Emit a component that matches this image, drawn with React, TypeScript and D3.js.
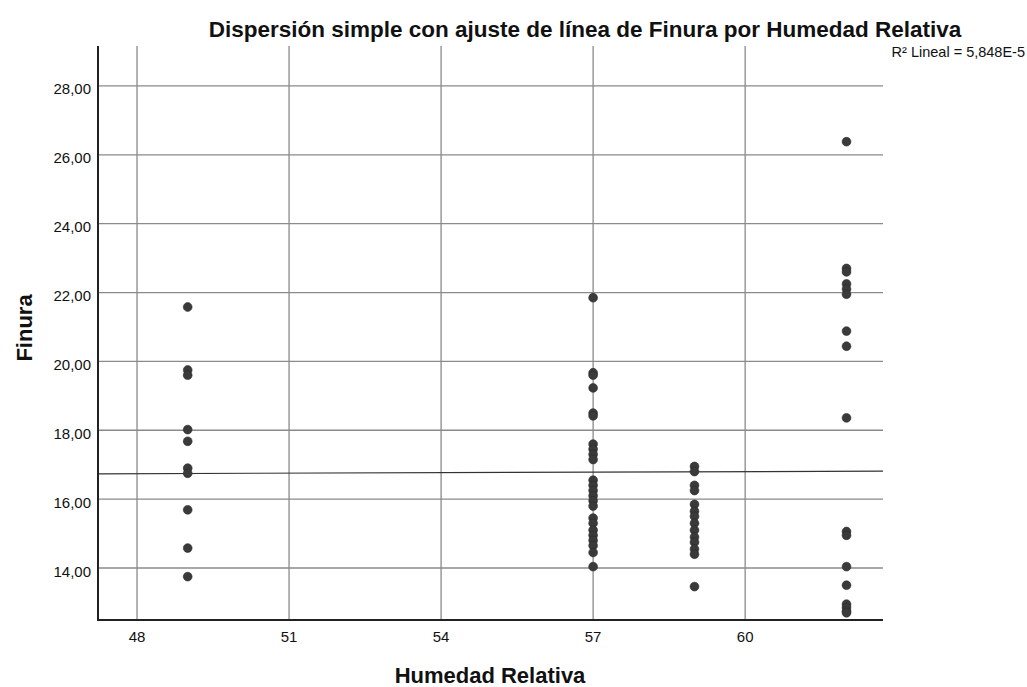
import React from "react";
import * as d3 from "d3";

const xTicks = [48, 51, 54, 57, 60];
const yTicks = [14, 16, 18, 20, 22, 24, 26, 28];

const humedad49 = [21.58, 19.75, 19.6, 18.02, 17.68, 16.9, 16.75, 15.69, 14.58, 13.75];
const humedad57 = [21.85, 19.67, 19.6, 19.23, 18.5, 18.42, 17.6, 17.45, 17.3, 17.15, 16.55, 16.4, 16.25, 16.1, 15.95, 15.8, 15.45, 15.3, 15.1, 14.95, 14.8, 14.65, 14.45, 14.04];
const humedad59 = [16.95, 16.8, 16.4, 16.25, 15.85, 15.65, 15.5, 15.3, 15.1, 14.9, 14.75, 14.55, 14.4, 13.46];
const humedad62 = [26.38, 22.7, 22.6, 22.25, 22.1, 21.95, 20.88, 20.44, 18.36, 15.06, 14.95, 14.04, 13.5, 12.95, 12.85, 12.75, 12.7];

const groups: [number, number[]][] = [
  [49, humedad49],
  [57, humedad57],
  [59, humedad59],
  [62, humedad62],
];

const fitIntercept = 16.5;
const fitSlope = 0.005;
const r2Label = "R² Lineal = 5,848E-5";

const W = 1027;
const H = 687;
const left = 98, right = 883, top = 46, bottom = 620;

export default function App() {
  const x = d3.scaleLinear().domain([47.23, 62.72]).range([left, right]);
  const y = d3.scaleLinear().domain([12.49, 29.16]).range([bottom, top]);
  const fmt = (v: number) => v.toFixed(2).replace(".", ",");
  const points = groups.flatMap(([h, vals]) => vals.map((v) => ({ h, v })));
  const [x0, x1] = x.domain();
  const fitLine = d3.line<number>().x((d) => x(d)).y((d) => y(fitIntercept + fitSlope * d));
  const font = "'Liberation Sans', Arial, sans-serif";
  return (
    <svg width={W} height={H} style={{ position: "absolute", left: 0, top: 0, background: "#fff" }} fontFamily={font}>
      <rect x={0} y={0} width={W} height={H} fill="#fff" />
      {yTicks.map((t) => (
        <line key={"gy" + t} x1={left} x2={right} y1={y(t)} y2={y(t)} stroke="#8a8a8a" strokeWidth={1.3} />
      ))}
      {xTicks.map((t) => (
        <line key={"gx" + t} x1={x(t)} x2={x(t)} y1={top} y2={bottom} stroke="#8a8a8a" strokeWidth={1.3} />
      ))}
      <path d={fitLine([x0, x1]) || ""} stroke="#333" strokeWidth={1.2} fill="none" />
      {points.map((p, i) => (
        <circle key={i} cx={x(p.h)} cy={y(p.v)} r={4.4} fill="#3a3a3a" stroke="#2a2a2a" strokeWidth={0.6} />
      ))}
      <line x1={left} x2={left} y1={top} y2={bottom + 1} stroke="#222" strokeWidth={2} />
      <line x1={left - 1} x2={right} y1={bottom} y2={bottom} stroke="#222" strokeWidth={2} />
      {yTicks.map((t) => (
        <text key={"ty" + t} x={left - 7} y={y(t) + 8.5} textAnchor="end" fontSize={15} fill="#111">
          {fmt(t)}
        </text>
      ))}
      {xTicks.map((t) => (
        <text key={"tx" + t} x={x(t)} y={642} textAnchor="middle" fontSize={15} fill="#111">
          {t}
        </text>
      ))}
      <text x={585} y={37} textAnchor="middle" fontSize={22.5} fontWeight="bold" fill="#111">
        Dispersión simple con ajuste de línea de Finura por Humedad Relativa
      </text>
      <text x={1025} y={57} textAnchor="end" fontSize={14.5} fill="#111">
        {r2Label}
      </text>
      <text x={490} y={683} textAnchor="middle" fontSize={22} fontWeight="bold" fill="#111">
        Humedad Relativa
      </text>
      <text transform={`translate(32,328) rotate(-90)`} textAnchor="middle" fontSize={22} fontWeight="bold" fill="#111">
        Finura
      </text>
    </svg>
  );
}
